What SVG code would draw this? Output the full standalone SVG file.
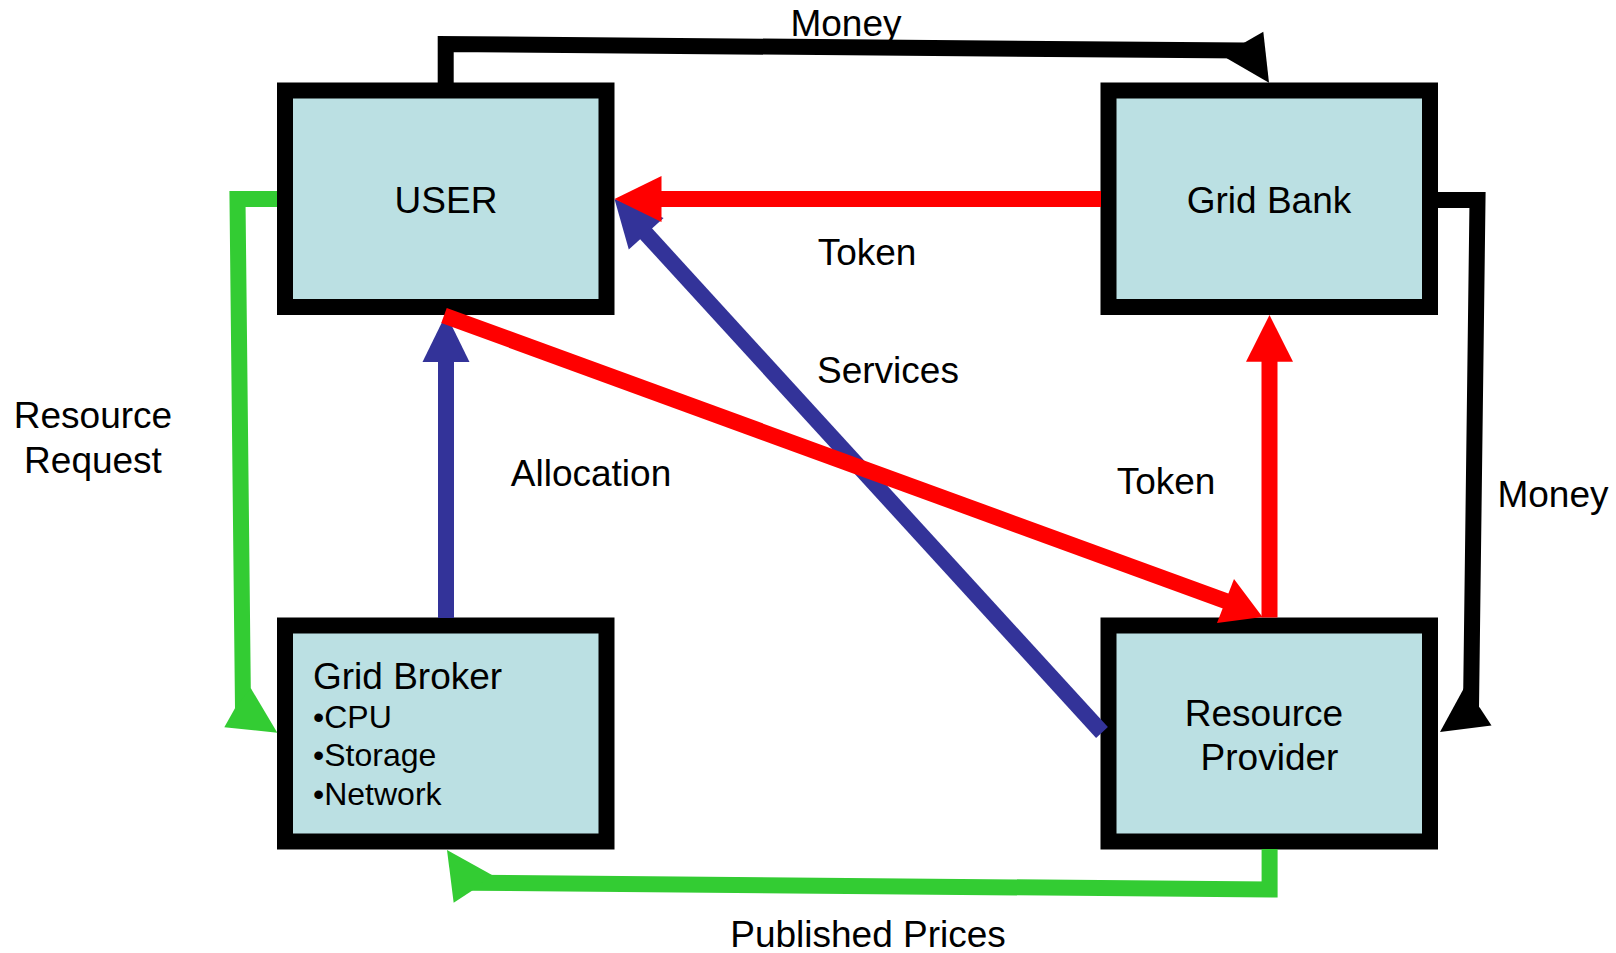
<svg xmlns="http://www.w3.org/2000/svg" width="1616" height="953" viewBox="0 0 1616 953">
<style>
.box{fill:#BBE0E3;stroke:#000;stroke-width:16}
.t{font-family:"Liberation Sans",Arial,sans-serif;font-size:37px;fill:#000}
.m{text-anchor:middle}
.s{font-size:32px}
.ln{fill:none;stroke-width:16;stroke-linejoin:miter;stroke-linecap:butt}
</style>
<rect width="1616" height="953" fill="#fff"/>
<g id="user">
<rect class="box" x="285" y="90.5" width="321.5" height="216.5"/>
<text class="t m" x="446" y="213">USER</text>
</g>
<g id="grid-bank">
<rect class="box" x="1108.5" y="90.5" width="321.5" height="216.5"/>
<text class="t m" x="1269" y="213">Grid Bank</text>
</g>
<g id="grid-broker">
<rect class="box" x="285" y="625.5" width="321.5" height="216"/>
<text class="t" x="313" y="689">Grid Broker</text>
<text class="t s" x="313" y="728">•CPU</text>
<text class="t s" x="313" y="766">•Storage</text>
<text class="t s" x="313" y="805">•Network</text>
</g>
<g id="resource-provider">
<rect class="box" x="1108.5" y="625.5" width="321.5" height="216"/>
<text class="t m" x="1264" y="726">Resource</text>
<text class="t m" x="1269.5" y="770">Provider</text>
</g>
<g id="connectors">
<!-- Money top -->
<path class="ln" stroke="#000" d="M445.7 83 L445.7 44 L1245 50.6"/>
<polygon fill="#000" points="1226.7,58.3 1245,42.3 1263.3,31.7 1269,82.7"/>
<!-- Money right -->
<path class="ln" stroke="#000" d="M1438 200 L1477.5 200 L1471 708"/>
<polygon fill="#000" points="1464,688 1440,732 1491.5,725.5 1480,708"/>
<!-- Resource Request -->
<path class="ln" stroke="#33CC33" d="M277 199 L237.5 199 L243 708"/>
<polygon fill="#33CC33" points="250.7,688 277.3,732.7 224.3,727.3 235,708.3"/>
<!-- Published Prices -->
<path class="ln" stroke="#33CC33" d="M1269.6 849 L1269.6 889.5 L471.6 882.8"/>
<polygon fill="#33CC33" points="492,875 447,850 453.7,902.7 471.6,891"/>
<!-- Allocation -->
<path class="ln" stroke="#333399" d="M446 618 L446 360"/>
<polygon fill="#333399" points="446,314 469.5,362 422.5,362"/>
<!-- Services -->
<path class="ln" stroke="#333399" d="M1102 732.5 L644 231.5"/>
<polygon fill="#333399" points="614.5,199 663.6,217.9 628.8,249.5"/>
<!-- Token top -->
<path class="ln" stroke="#FF0000" d="M1101 199 L659 199"/>
<polygon fill="#FF0000" points="614.5,199 661.5,176 661.5,222"/>
<!-- Token right -->
<path class="ln" stroke="#FF0000" d="M1269.5 617.5 L1269.5 359"/>
<polygon fill="#FF0000" points="1269.5,315 1293,361.7 1246,361.7"/>
<!-- Token diagonal -->
<path class="ln" stroke="#FF0000" d="M444 315.5 L1227 601.5"/>
<polygon fill="#FF0000" points="1262.5,617 1217,623 1234,579"/>
</g>
<g id="labels">
<text class="t m" x="846" y="36">Money</text>
<text class="t m" x="867" y="265">Token</text>
<text class="t m" x="888" y="383">Services</text>
<text class="t m" x="591" y="486">Allocation</text>
<text class="t m" x="1166" y="494">Token</text>
<text class="t m" x="1553" y="507">Money</text>
<text class="t m" x="93" y="428">Resource</text>
<text class="t m" x="93" y="473">Request</text>
<text class="t m" x="868" y="947">Published Prices</text>
</g>
</svg>
